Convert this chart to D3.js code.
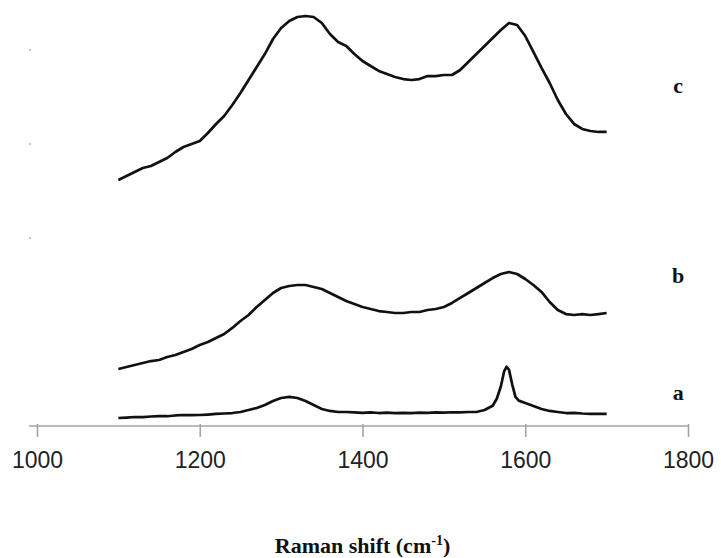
<!DOCTYPE html>
<meta charset="utf-8">
<script src="https://d3js.org/d3.v7.min.js"></script>
<style>
  body { margin: 0; background: #fff; }
</style>

<div id="raman_plot"></div>

<script>

  // Raman shift (cm-1) shared by spectra b and c
  var shift = [1100,1110,1120,1130,1140,1150,1160,1170,1180,1190,
               1200,1210,1220,1230,1240,1250,1260,1270,1280,1290,
               1300,1310,1320,1330,1340,1350,1360,1370,1380,1390,
               1400,1410,1420,1430,1440,1450,1460,1470,1480,1490,
               1500,1510,1520,1530,1540,1550,1560,1570,1580,1590,
               1600,1610,1620,1630,1640,1650,1660,1670,1680,1690,1700];

  // spectrum a has a sharp G band so it is sampled more finely there
  var shiftA = [1100,1110,1120,1130,1140,1150,1160,1170,1180,1190,
                1200,1210,1220,1230,1240,1250,1260,1270,1280,1290,
                1300,1310,1320,1330,1340,1350,1360,1370,1380,1390,
                1400,1410,1420,1430,1440,1450,1460,1470,1480,1490,
                1500,1510,1520,1530,1540,1550,1560,1565,1570,1574,
                1577,1580,1584,1588,1592,1600,1610,1620,1630,1640,
                1650,1660,1670,1680,1690,1700];

  // intensities (a.u., curves are offset)
  var intensityA = [0.085,0.090,0.096,0.094,0.101,0.106,0.104,0.112,0.117,0.115,
                    0.117,0.122,0.128,0.133,0.138,0.149,0.170,0.191,0.223,0.266,
                    0.298,0.309,0.298,0.266,0.223,0.181,0.160,0.149,0.149,0.144,
                    0.140,0.144,0.138,0.142,0.136,0.140,0.138,0.142,0.140,0.144,
                    0.142,0.146,0.144,0.149,0.149,0.170,0.215,0.290,0.420,0.580,
                    0.630,0.600,0.440,0.310,0.270,0.245,0.213,0.181,0.160,0.149,
                    0.138,0.140,0.133,0.130,0.128,0.128];

  var intensityB = [0.606,0.628,0.649,0.670,0.691,0.702,0.734,0.755,0.787,0.819,
                    0.862,0.894,0.936,0.979,1.043,1.117,1.181,1.266,1.340,1.415,
                    1.468,1.489,1.500,1.500,1.479,1.457,1.415,1.372,1.330,1.298,
                    1.266,1.245,1.223,1.213,1.202,1.202,1.213,1.213,1.234,1.245,
                    1.266,1.309,1.362,1.415,1.468,1.521,1.574,1.617,1.638,1.617,
                    1.564,1.500,1.426,1.319,1.234,1.191,1.181,1.191,1.181,1.191,1.202];

  var intensityC = [2.617,2.660,2.702,2.745,2.766,2.809,2.851,2.915,2.968,3.000,
                    3.032,3.117,3.213,3.298,3.415,3.543,3.681,3.819,3.957,4.117,
                    4.234,4.309,4.351,4.362,4.351,4.287,4.170,4.085,4.043,3.957,
                    3.883,3.830,3.777,3.745,3.713,3.691,3.681,3.691,3.723,3.723,
                    3.734,3.734,3.787,3.872,3.957,4.043,4.128,4.213,4.287,4.266,
                    4.149,3.979,3.809,3.649,3.468,3.319,3.213,3.160,3.138,3.128,3.128];

  var xTicks = [1000, 1200, 1400, 1600, 1800];
  var yTicks = [2, 3, 4];
  var seriesNames = ["a", "b", "c"];

  // set the dimensions and margins of the graph
  var margin = {top: 50, right: 33, bottom: 132, left: 37},
      width = 721 - margin.left - margin.right,
      height = 558 - margin.top - margin.bottom;

  var svg = d3.select("#raman_plot")
    .append("svg")
      .attr("width", width + margin.left + margin.right)
      .attr("height", height + margin.top + margin.bottom)
    .append("g")
      .attr("transform", "translate(" + margin.left + "," + margin.top + ")");

  var x = d3.scaleLinear()
    .domain([1000, 1800])
    .range([0, width]);

  var y = d3.scaleLinear()
    .domain([0, 4])
    .range([height, 0]);

  // X axis (grey, Excel style)
  var xAxis = svg.append("g")
    .attr("transform", "translate(0," + height + ")")
    .call(d3.axisBottom(x)
      .tickValues(xTicks)
      .tickFormat(d3.format("d"))
      .tickSize(11)
      .tickSizeOuter(0)
      .tickPadding(15));

  xAxis.select(".domain").remove();
  xAxis.append("line")
    .attr("x1", -8).attr("x2", width)
    .attr("y1", 0).attr("y2", 0)
    .attr("stroke", "#a3a3a3")
    .attr("stroke-width", 1.6);
  xAxis.selectAll(".tick line")
    .attr("y1", -2)
    .attr("stroke", "#a3a3a3")
    .attr("stroke-width", 1.6);
  xAxis.selectAll(".tick text")
    .style("font-family", "'Liberation Sans', Arial, sans-serif")
    .style("font-size", "23px")
    .attr("fill", "#222");

  // the faint y tick marks left of the plot
  svg.append("g")
    .selectAll("circle")
    .data(yTicks)
    .enter()
    .append("circle")
      .attr("cx", -7)
      .attr("cy", function (d) { return y(d); })
      .attr("r", 1)
      .style("fill", "#b0b0b0");

  // spectra
  var line = d3.line()
    .x(function (d) { return x(d[0]); })
    .y(function (d) { return y(d[1]); });

  var spectra = [
    d3.zip(shiftA, intensityA),
    d3.zip(shift, intensityB),
    d3.zip(shift, intensityC)
  ];

  svg.append("g")
    .selectAll("path")
    .data(spectra)
    .enter()
    .append("path")
      .attr("d", line)
      .attr("fill", "none")
      .attr("stroke", "#111")
      .attr("stroke-width", 2.7)
      .attr("stroke-linejoin", "round");

  // curve labels a, b, c
  var labelLevel = [0.28, 1.52, 3.54];
  svg.append("g")
    .selectAll("text")
    .data(seriesNames)
    .enter()
    .append("text")
      .attr("x", x(1788))
      .attr("y", function (d, i) { return y(labelLevel[i]); })
      .attr("text-anchor", "middle")
      .style("font-family", "'Liberation Serif', 'Times New Roman', serif")
      .style("font-weight", "bold")
      .style("font-size", "22px")
      .attr("fill", "#111")
      .text(function (d) { return d; });

  // X axis title
  var title = svg.append("text")
      .attr("x", x(1400))
      .attr("y", height + 127)
      .attr("text-anchor", "middle")
      .style("font-family", "'Liberation Serif', 'Times New Roman', serif")
      .style("font-weight", "bold")
      .style("font-size", "22px")
      .attr("fill", "#111");
  title.append("tspan").text("Raman shift (cm");
  title.append("tspan").attr("dy", -8).style("font-size", "14px").text("-1");
  title.append("tspan").attr("dy", 8).text(")");

</script>
